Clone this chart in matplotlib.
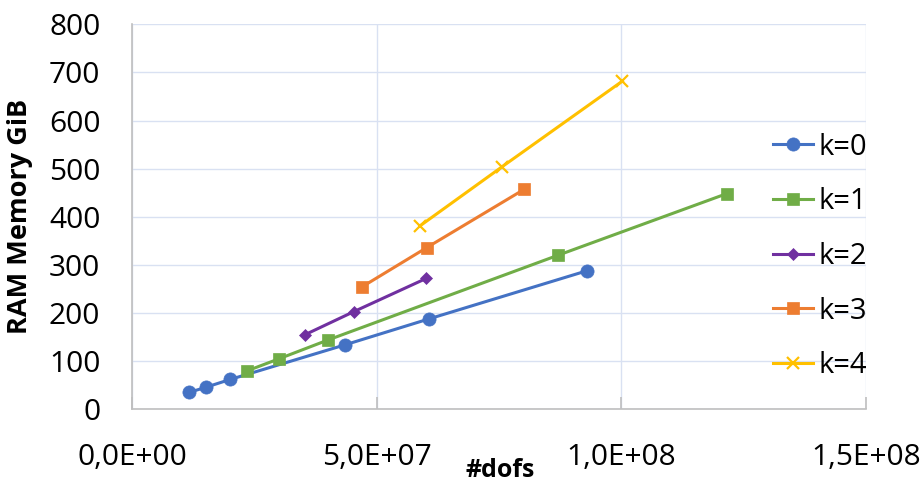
import matplotlib
matplotlib.use("Agg")
import matplotlib.pyplot as plt
from matplotlib.ticker import MultipleLocator

plt.rcParams['font.family'] = ['Open Sans', 'DejaVu Sans']

labels = ["k=0", "k=1", "k=2", "k=3", "k=4"]
k0_x = [11.6e6, 15.1e6, 20.0e6, 43.5e6, 60.7e6, 93.0e6]
k0_y = [35, 46, 62, 134, 188, 288]
k1_x = [23.5e6, 30.0e6, 40.0e6, 87.0e6, 121.5e6]
k1_y = [80, 105, 144, 320, 448]
k2_x = [35.3e6, 45.3e6, 60.1e6]
k2_y = [155, 203, 272]
k3_x = [46.9e6, 60.2e6, 80.1e6]
k3_y = [254, 336, 457]
k4_x = [58.8e6, 75.6e6, 100.2e6]
k4_y = [381, 504, 682]

xticks = [0, 5e7, 1e8, 1.5e8]
xtick_labels = ["0,0E+00", "5,0E+07", "1,0E+08", "1,5E+08"]

series = [(k0_x, k0_y), (k1_x, k1_y), (k2_x, k2_y), (k3_x, k3_y), (k4_x, k4_y)]
colors = ["#4472C4", "#70AD47", "#7030A0", "#ED7D31", "#FFC000"]
markers = ["o", "s", "D", "s", "x"]
msizes = [9.5, 8.5, 6.5, 8.5, 9]

fig = plt.figure(figsize=(9.24, 4.82), dpi=100)
ax = fig.add_axes([132.3/924, 1-409.3/482, (866-132.3)/924, (409.3-24.3)/482])

for (xs, ys), c, m, ms, lab in zip(series, colors, markers, msizes, labels):
    ax.plot(xs, ys, color=c, marker=m, markersize=ms, lw=2.2, label=lab,
            markeredgewidth=1.6 if m == "x" else 0.5, markeredgecolor=c, zorder=3)

ax.set_xlim(0, 1.5e8)
ax.set_ylim(0, 800)
ax.set_xticks(xticks)
ax.set_xticklabels(xtick_labels)
ax.yaxis.set_major_locator(MultipleLocator(100))
ax.grid(True, color="#D9E1F2", lw=1.0, zorder=0)
ax.set_axisbelow(True)
for s in ["top", "right"]:
    ax.spines[s].set_visible(False)
for s in ["left", "bottom"]:
    ax.spines[s].set_color("#BFBFBF")
    ax.spines[s].set_linewidth(1.2)
ax.tick_params(axis="x", direction="in", length=9, color="#BFBFBF", width=1.2,
               labelsize=21.5, pad=24, labelcolor="#000000")
ax.tick_params(axis="y", length=0, labelsize=21.5, pad=23, labelcolor="#000000")

ax.set_ylabel("RAM Memory GiB", fontsize=19.5, fontweight="bold")
ax.yaxis.set_label_coords(-0.135, 0.5)
ax.set_xlabel("#dofs", fontsize=18, fontweight="bold", va="baseline")
ax.xaxis.set_label_coords(0.501, (409.3-477)/385)

leg = ax.legend(loc="center left", bbox_to_anchor=(773/924, 1-256.5/482),
                bbox_transform=fig.transFigure, frameon=False, fontsize=21,
                handlelength=1.37, handletextpad=0.2, labelspacing=0.88,
                borderpad=0, borderaxespad=0)

fig.savefig("out.png", dpi=100)
